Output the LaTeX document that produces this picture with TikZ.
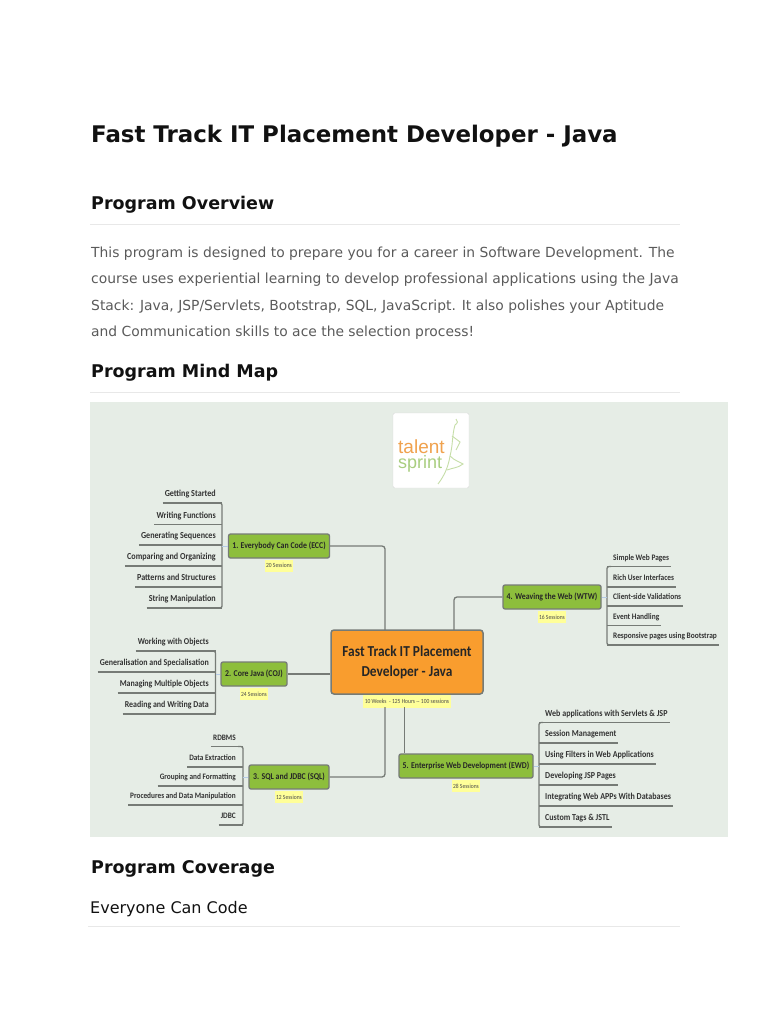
\documentclass[tikz,border=0pt]{standalone}
\usepackage{fontspec}
\setmainfont{DejaVu Sans}
\newfontfamily\mapfont[FakeStretch=0.88]{Carlito}
\newfontfamily\logofont{Liberation Sans}
\usetikzlibrary{positioning}
\definecolor{panelbg}{HTML}{E6EDE6}
\definecolor{branchgrey}{HTML}{767B76}
\definecolor{topicgreen}{HTML}{8DBE3C}
\definecolor{rootorange}{HTML}{F99D2E}
\definecolor{tagyellow}{HTML}{FFFF99}
\definecolor{stubblue}{HTML}{B4CBE6}
\definecolor{bodygrey}{HTML}{5A5A5A}
\definecolor{rulegrey}{HTML}{E8E8E8}
\definecolor{headdark}{HTML}{111111}
\definecolor{logoorange}{HTML}{F0A24E}
\definecolor{logogreen}{HTML}{A9CE80}
\definecolor{runnergreen}{HTML}{C6DEA8}
\tikzset{
  pagetext/.style={anchor=base west,inner sep=0pt,text=headdark,font=\bfseries\fontsize{17.5}{20}\selectfont},
  bodyline/.style={anchor=base west,inner sep=0pt,text=bodygrey,font=\fontsize{13.87}{16}\selectfont},
  pagerule/.style={draw=rulegrey,line width=0.9pt},
  topic/.style={draw=branchgrey,line width=1.3pt,rounded corners=2pt,fill=topicgreen,text=black!85,inner sep=0pt,font=\mapfont\bfseries\fontsize{8.9}{10}\selectfont},
  tag/.style={fill=tagyellow,inner sep=0pt,text=black!70,font=\mapfont\fontsize{6.3}{7}\selectfont},
  leaf/.style={inner ysep=4pt,inner xsep=2pt,text depth=2pt,text=black!80,font=\mapfont\bfseries\fontsize{#1}{10}\selectfont},
  branch/.style={draw=branchgrey,line width=1.3pt},
  stub/.style={draw=stubblue,line width=0.8pt}
}
\begin{document}
\begin{tikzpicture}[x=1pt,y=-1pt]
\useasboundingbox (0,0) rectangle (768,1024);
% page text
\node[pagetext,font=\bfseries\fontsize{22.9}{26}\selectfont] (title) at (91,142.5) {Fast Track IT Placement Developer - Java};
\node[pagetext] (overview) at (91,210) {Program Overview};
\draw[pagerule] (90,224)--(680,224);
\node[bodyline] (l1) at (91,257) {This program is designed to prepare you for a career in Software Development. The};
\node[bodyline] (l2) at (91,283.5) {course uses experiential learning to develop professional applications using the Java};
\node[bodyline] (l3) at (91,310) {Stack: Java, JSP/Servlets, Bootstrap, SQL, JavaScript. It also polishes your Aptitude};
\node[bodyline] (l4) at (91,336) {and Communication skills to ace the selection process!};
\node[pagetext] (mindmap) at (91,377) {Program Mind Map};
\draw[pagerule] (90,392)--(680,392);
\node[pagetext] (coverage) at (91,873.5) {Program Coverage};
\node[pagetext,font=\fontsize{16}{18}\selectfont] (everyone) at (90,913) {Everyone Can Code};
\draw[pagerule] (88,926)--(680,926);
% map panel and logo
\fill[panelbg] (90,402) rectangle (728,837);
\draw[draw=black!15,fill=white,rounded corners=2pt] (393,413) rectangle (469,488);
\node[anchor=base west,inner sep=0pt,text=logoorange,font=\logofont\fontsize{19}{20}\selectfont] (talent) at (398,453) {talent};
\node[anchor=base west,inner sep=0pt,text=logogreen,font=\logofont\fontsize{18}{20}\selectfont] (sprint) at (398,468) {sprint};
\draw[runnergreen,line width=0.9pt] (456,419) .. controls (458,421) and (458,423) .. (455,425)
  .. controls (452,435) and (453,445) .. (450,456) .. controls (448,468) and (444,476) .. (438,484);
\draw[runnergreen,line width=0.9pt] (450,456) .. controls (455,461) and (460,462) .. (463,464) .. controls (458,468) and (452,468) .. (447,470);
\draw[runnergreen,line width=0.9pt] (452,436) -- (460,442) -- (456,450);
% topics
\node[draw=branchgrey,line width=1.5pt,rounded corners=3pt,fill=rootorange,text=black!85,inner sep=0pt,minimum width=152pt,minimum height=64pt,align=center,font=\mapfont\bfseries\fontsize{15.2}{20}\selectfont] (root) at (407,662) {Fast Track IT Placement\\Developer - Java};
\node[tag,minimum width=88pt,minimum height=13pt] (roottag) at (407,701) {10 Weeks\ \ - 125 Hours -- 100 sessions};
\node[topic,minimum width=101pt,minimum height=24pt] (ecc) at (279,546) {1. Everybody Can Code (ECC)};
\node[topic,minimum width=66pt,minimum height=24pt] (coj) at (254,674) {2. Core Java (COJ)};
\node[topic,minimum width=80pt,minimum height=24pt] (sql) at (289,777) {3. SQL and JDBC (SQL)};
\node[topic,minimum width=98pt,minimum height=24pt] (wtw) at (552,597) {4. Weaving the Web (WTW)};
\node[topic,minimum width=134pt,minimum height=24pt] (ewd) at (466,766) {5. Enterprise Web Development (EWD)};
\node[tag,minimum width=28pt,minimum height=12pt,below=1pt of ecc] (ecctag) {20 Sessions};
\node[tag,minimum width=28pt,minimum height=12pt,below=1pt of coj] (cojtag) {24 Sessions};
\node[tag,minimum width=28pt,minimum height=12pt,below=1pt of sql] (sqltag) {12 Sessions};
\node[tag,minimum width=28pt,minimum height=12pt,below=1pt of wtw] (wtwtag) {16 Sessions};
\node[tag,minimum width=28pt,minimum height=12pt,below=1pt of ewd] (ewdtag) {28 Sessions};
% links to the root
\coordinate (rootecc) at (385,630);
\coordinate (rootsql) at (385,707);
\coordinate (rootwtw) at (454,630);
\coordinate (rootewd) at (404.5,707);
\draw[branch,rounded corners=3pt] (ecc.east) -| (rootecc);
\draw[branch] (coj.east) -- (coj.east -| root.west);
\draw[branch,rounded corners=3pt] (sql.east) -| (rootsql);
\draw[branch,rounded corners=3pt] (wtw.west) -| (rootwtw);
\draw[branch] (rootewd) -- (rootewd |- ewd.north);
% leaves on the left
\coordinate (eccbar) at (222,503);
\foreach \y/\txt [count=\i] in {503/Getting Started,524.5/Writing Functions,545/Generating Sequences,566/Comparing and Organizing,587/Patterns and Structures,608/String Manipulation} {
  \node[leaf=9.2,anchor=south east] (ecc\i) at (218,\y) {\txt};
  \draw[branch] (ecc\i.south west)--(ecc\i.south west -| eccbar);
}
\draw[branch,rounded corners=2pt] (ecc1.south east) -- (eccbar) -- (eccbar |- ecc6.south) -- (ecc6.south east);
\draw[stub] (ecc.west) -- (ecc.west -| eccbar);
\coordinate (cojbar) at (215.5,651);
\foreach \y/\txt [count=\i] in {651/Working with Objects,672/Generalisation and Specialisation,693/Managing Multiple Objects,714/Reading and Writing Data} {
  \node[leaf=9,anchor=south east] (coj\i) at (211,\y) {\txt};
  \draw[branch] (coj\i.south west)--(coj\i.south west -| cojbar);
}
\draw[branch,rounded corners=2pt] (coj1.south east) -- (cojbar) -- (cojbar |- coj4.south) -- (coj4.south east);
\draw[stub] (coj.west) -- (coj.west -| cojbar);
\coordinate (sqlbar) at (243,746.5);
\foreach \y/\txt [count=\i] in {746.5/RDBMS,767/Data Extraction,786/Grouping and Formatting,805/Procedures and Data Manipulation,825/JDBC} {
  \node[leaf=8.3,anchor=south east] (sql\i) at (238,\y) {\txt};
  \draw[branch] (sql\i.south west)--(sql\i.south west -| sqlbar);
}
\draw[branch,rounded corners=2pt] (sql1.south east) -- (sqlbar) -- (sqlbar |- sql5.south) -- (sql5.south east);
\draw[stub] (sql.west) -- (sql.west -| sqlbar);
% leaves on the right
\coordinate (wtwbar) at (607,566.5);
\foreach \y/\txt [count=\i] in {566.5/Simple Web Pages,587/Rich User Interfaces,606/Client-side Validations,625.5/Event Handling,645/Responsive pages using Bootstrap} {
  \node[leaf=8.4,anchor=south west] (wtw\i) at (611,\y) {\txt};
  \draw[branch] (wtwbar |- wtw\i.south east)--(wtw\i.south east);
}
\draw[branch,rounded corners=2pt] (wtw1.south west) -- (wtwbar) -- (wtwbar |- wtw5.south) -- (wtw5.south west);
\draw[stub] (wtw.east) -- (wtw.east -| wtwbar);
\coordinate (ewdbar) at (539,722.5);
\foreach \y/\txt [count=\i] in {722.5/Web applications with Servlets \& JSP,743/Session Management,764/Using Filters in Web Applications,785/Developing JSP Pages,806/Integrating Web APPs With Databases,827/Custom Tags \& JSTL} {
  \node[leaf=9.1,anchor=south west] (ewd\i) at (543,\y) {\txt};
  \draw[branch] (ewdbar |- ewd\i.south east)--(ewd\i.south east);
}
\draw[branch,rounded corners=2pt] (ewd1.south west) -- (ewdbar) -- (ewdbar |- ewd6.south) -- (ewd6.south west);
\draw[stub] (ewd.east) -- (ewd.east -| ewdbar);
\end{tikzpicture}
\end{document}
